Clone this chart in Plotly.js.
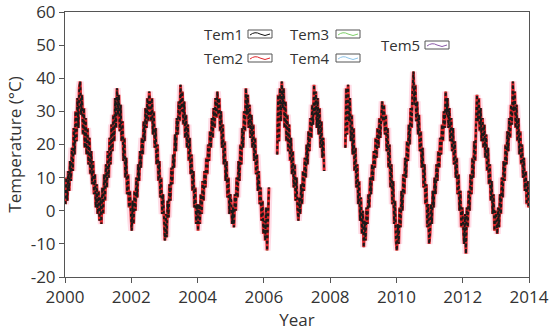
<!DOCTYPE html>
<html>
<head>
<meta charset="utf-8">
<script src="https://cdn.plot.ly/plotly-3.0.1.min.js"></script>
<style>html,body{margin:0;padding:0;background:#fff;}#chart{width:550px;height:332px;}</style>
</head>
<body>
<div id="chart"></div>
<script>
const years = [2000,2001,2002,2003,2004,2005,2006,2007,2008,2009,2010,2011,2012,2013];
const samplesPerYear = 36;
const tem1ByYear = [
  [2, 10, 3, 12, 6, 15, 9, 19, 12, 25, 17, 30, 21, 34, 25, 37, 39, 29, 35, 23, 31, 19, 28, 17, 25, 14, 22, 11, 18, 8, 15, 5, 11, 1, 8, -1],
  [6, -3, 4, -4, 7, -1, 11, 3, 14, 7, 18, 10, 22, 14, 26, 18, 29, 21, 34, 25, 37, 29, 35, 24, 32, 21, 27, 15, 22, 10, 16, 5, 11, 1, 6, -3],
  [-6, 3, -4, 6, 0, 10, 4, 14, 9, 18, 13, 22, 17, 27, 21, 31, 25, 34, 27, 36, 31, 27, 34, 23, 30, 19, 25, 14, 20, 9, 15, 4, 10, -1, 5, -5],
  [-9, -1, -8, 3, -2, 8, 3, 13, 8, 17, 13, 23, 18, 28, 23, 33, 27, 38, 30, 36, 26, 33, 22, 29, 19, 26, 15, 22, 11, 17, 6, 12, 1, 7, -4, 2],
  [-6, 2, -4, 5, -1, 9, 3, 12, 7, 16, 11, 20, 15, 24, 19, 28, 22, 31, 25, 34, 28, 36, 29, 34, 24, 30, 19, 26, 14, 21, 9, 15, 4, 10, -1, 5],
  [3, -4, 1, -5, 5, 0, 10, 4, 15, 9, 20, 14, 25, 19, 30, 24, 37, 29, 35, 25, 32, 22, 29, 19, 26, 15, 22, 11, 17, 6, 12, 2, 7, -3, 3, -7],
  [-3, -9, 1, -12, -5, 7, null, null, null, null, null, null, null, null, 17, 35, 21, 37, 27, 39, 31, 37, 25, 33, 21, 29, 18, 26, 15, 22, 11, 18, 7, 14, 3, 10],
  [1, -3, 4, -1, 8, 2, 12, 6, 16, 10, 20, 14, 24, 18, 28, 22, 32, 26, 38, 29, 36, 25, 34, 23, 31, 19, 27, 16, 22, 12, null, null, null, null, null, null],
  [null, null, null, null, null, null, null, null, null, null, null, null, null, null, null, null, 19, 37, 23, 38, 27, 34, 21, 29, 17, 25, 12, 19, 7, 14, 2, 9, -3, 4, -7, 0],
  [-11, -3, -9, 1, -4, 5, 1, 10, 5, 14, 9, 18, 13, 22, 16, 25, 19, 28, 22, 31, 33, 27, 32, 23, 29, 18, 25, 13, 20, 7, 14, 2, 9, -4, 3, -9],
  [-12, -4, -10, 1, -5, 6, 0, 11, 5, 16, 10, 21, 15, 26, 20, 31, 25, 36, 42, 32, 38, 27, 33, 23, 29, 18, 24, 13, 19, 7, 14, 2, 8, -5, 2, -10],
  [-7, 2, -4, 6, 1, 10, 5, 14, 9, 18, 13, 22, 17, 26, 21, 30, 25, 36, 29, 34, 25, 31, 21, 28, 18, 25, 14, 21, 10, 16, 5, 11, 0, 6, -5, 1],
  [-5, -10, -1, -13, 1, -5, 6, 0, 11, 5, 16, 10, 21, 15, 26, 35, 27, 34, 24, 31, 21, 28, 19, 26, 16, 23, 12, 19, 8, 14, 3, 9, -1, 5, -6, 0],
  [-2, -7, 1, -5, 5, -1, 10, 4, 15, 9, 20, 14, 24, 18, 28, 22, 32, 26, 39, 30, 36, 25, 32, 21, 28, 17, 24, 14, 20, 10, 16, 6, 12, 2, 9, 1]
];
const seriesNames = ['Tem1','Tem2','Tem3','Tem4','Tem5'];
const xTickVals = [2000,2002,2004,2006,2008,2010,2012,2014];
const yTickVals = [-20,-10,0,10,20,30,40,50,60];

// sample times
const xs = [];
const tem1 = [];
years.forEach((yr, i) => {
  tem1ByYear[i].forEach((v, k) => {
    xs.push(yr + (k + 0.5) / samplesPerYear);
    tem1.push(v);
  });
});
// The five series overlap almost exactly in the picture
const tem2 = tem1.slice();
const tem3 = tem1.slice();
const tem4 = tem1.slice();
const tem5 = tem1.slice();

const colors = {Tem1:'#111111', Tem2:'#e0262b', Tem3:'#7fd16a', Tem4:'#8ec5ea', Tem5:'#8a5aa8'};

const traces = [
  {x: xs, y: tem5, name:'Tem5', mode:'lines', line:{color:'rgba(255,185,205,0.5)', width:7}, connectgaps:false, showlegend:false, hoverinfo:'skip'},
  {x: xs, y: tem4, name:'Tem4', mode:'lines', line:{color:colors.Tem4, width:1}, connectgaps:false, showlegend:false},
  {x: xs, y: tem3, name:'Tem3', mode:'lines', line:{color:colors.Tem3, width:1}, connectgaps:false, showlegend:false},
  {x: xs, y: tem2, name:'Tem2', mode:'lines', line:{color:colors.Tem2, width:3}, connectgaps:false, showlegend:false},
  {x: xs, y: tem1, name:'Tem1', mode:'lines', line:{color:'#1a1a1a', width:2, dash:'3px,2.5px'}, connectgaps:false, showlegend:false}
];

// plot area in pixels
const L = 65, R = 529, T = 12, B = 277;
const px = v => (v - L) / (R - L);
const py = v => (B - v) / (B - T);

const legendItems = [
  {name:'Tem1', tx:202, ix:248, y:34},
  {name:'Tem2', tx:202, ix:248, y:58},
  {name:'Tem3', tx:288, ix:336, y:34},
  {name:'Tem4', tx:288, ix:336, y:58},
  {name:'Tem5', tx:379, ix:425, y:45}
];
const annotations = [];
const shapes = [];
legendItems.forEach(it => {
  annotations.push({xref:'paper', yref:'paper', x:px(it.tx), y:py(it.y), xanchor:'left', yanchor:'middle',
    text:it.name, showarrow:false, font:{family:'Open Sans, sans-serif', size:15, color:'#333'}});
  const x0 = it.ix, x1 = it.ix + 24, y0 = it.y - 4, y1 = it.y + 4;
  shapes.push({type:'rect', xref:'paper', yref:'paper', x0:px(x0), x1:px(x1), y0:py(y1), y1:py(y0),
    line:{color:'#555', width:1}, fillcolor:'rgba(0,0,0,0)'});
  const p = 'M' + px(x0+2) + ',' + py(it.y+1) + ' Q' + px(x0+7) + ',' + py(it.y-3) + ' ' + px(x0+12) + ',' + py(it.y) +
            ' T' + px(x1-2) + ',' + py(it.y);
  shapes.push({type:'path', xref:'paper', yref:'paper', path:p, line:{color:colors[it.name], width:1}});
});

const axisCommon = {
  showline:true, linecolor:'#555', linewidth:1, mirror:true,
  ticks:'outside', ticklen:5, tickcolor:'#555', tickwidth:1,
  showgrid:false, zeroline:false, ticklabeloverflow:'allow',
  tickfont:{family:'Open Sans, sans-serif', size:17, color:'#333'}
};

const layout = {
  width:550, height:332,
  margin:{l:L, r:550-R, t:T, b:332-B},
  paper_bgcolor:'#fff', plot_bgcolor:'#fff',
  showlegend:false,
  xaxis: Object.assign({}, axisCommon, {range:[2000,2014], tickvals:xTickVals, ticktext:xTickVals.map(String),
    title:{text:'Year', font:{family:'Open Sans, sans-serif', size:17, color:'#333'}, standoff:4}}),
  yaxis: Object.assign({}, axisCommon, {range:[-20,60], tickvals:yTickVals, ticktext:yTickVals.map(String),
    title:{text:'Temperature (°C)', font:{family:'Open Sans, sans-serif', size:17, color:'#333'}, standoff:4}}),
  annotations: annotations,
  shapes: shapes
};

Plotly.newPlot('chart', traces, layout, {displayModeBar:false, staticPlot:true});
</script>
</body>
</html>
